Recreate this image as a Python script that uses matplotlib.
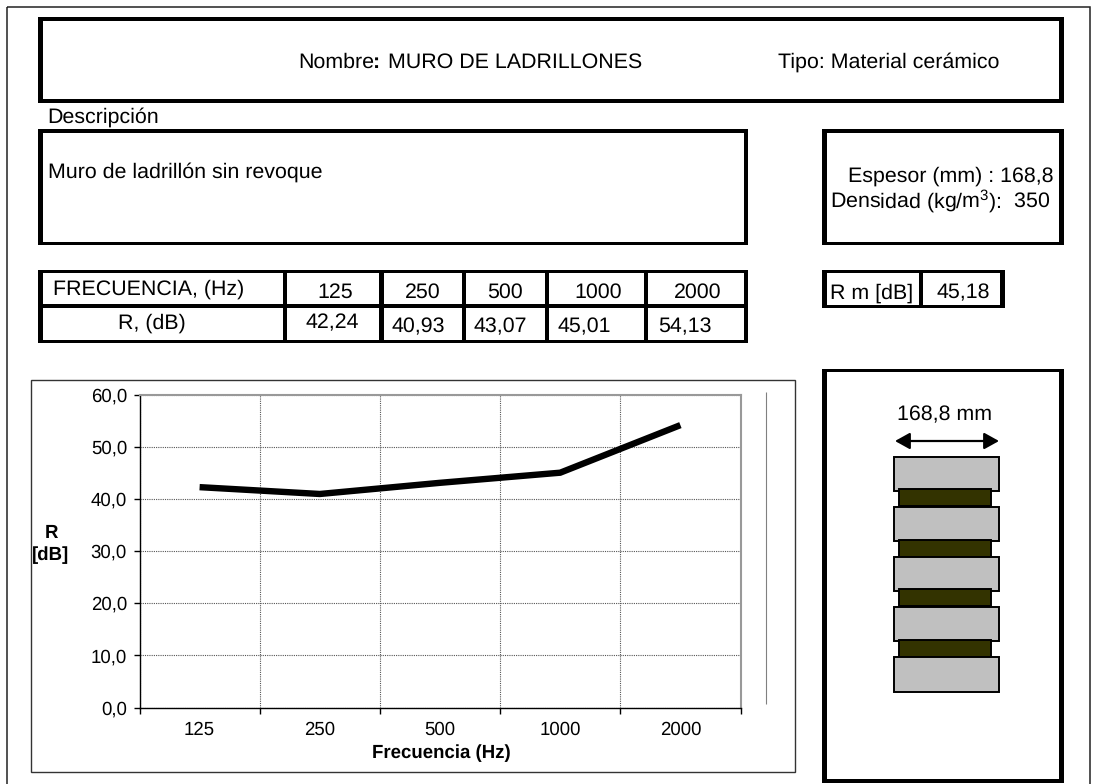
"""
Ficha de muro de ladrillones: cajas de texto, tabla, curva R y esquema del muro.
"""

import matplotlib
matplotlib.use("Agg")
import matplotlib.pyplot as plt
from matplotlib.patches import Rectangle

plt.rcParams['font.family'] = ['Liberation Sans', 'DejaVu Sans']
plt.rcParams['mathtext.default'] = 'regular'
plt.rcParams['text.hinting'] = 'none'

W, H = 1093, 784

# Data
frequencies = ["125", "250", "500", "1000", "2000"]
r_values = [42.24, 40.93, 43.07, 45.01, 54.13]
r_labels = ["42,24", "40,93", "43,07", "45,01", "54,13"]
y_ticks = [0, 10, 20, 30, 40, 50, 60]
y_tick_labels = ["0,0", "10,0", "20,0", "30,0", "40,0", "50,0", "60,0"]

# Layout, in pixels of the picture
TEXT_SIZE = 15.4
AXIS_SIZE = 13.4
CHART_BOX = (139.5, 394.5, 740.5, 707.5)  # left, top, right, bottom
TABLE_COLS = [285, 381.6, 464, 546.8, 646]
FREQ_POS = [(335, 292), (423, 292), (505, 292), (598, 292), (698, 292)]
R_POS = [(332, 323), (418, 327), (500, 327), (584, 327), (685, 327)]
BRICK_ROWS = [(456.5, 490.5), (506.5, 541), (557, 590.5), (606.5, 641), (657, 691.5)]
MORTAR_ROWS = [(489, 506), (540, 557), (589, 606), (640, 657)]


def frame(ax, x0, y0, x1, y1, tv=4.6, th=3.4):
    # outer pixel edges, the source has thicker vertical sides than horizontal ones
    for rect in [(x0, y0, tv, y1 - y0), (x1 - tv, y0, tv, y1 - y0),
                 (x0, y0, x1 - x0, th), (x0, y1 - th, x1 - x0, th)]:
        bar(ax, *rect)


def bar(ax, x, y, w, h, color="black"):
    ax.add_patch(Rectangle((x, y), w, h, facecolor=color, edgecolor="none"))


def thin_box(ax, x0, y0, x1, y1, **kwargs):
    ax.add_patch(Rectangle((x0, y0), x1 - x0, y1 - y0, facecolor="none", **kwargs))


def block(ax, x0, y0, x1, y1, color):
    ax.add_patch(Rectangle((x0, y0), x1 - x0, y1 - y0, facecolor=color, edgecolor="black",
                           linewidth=1.4))


def label(ax, x, y, s, ha="center", **kwargs):
    kwargs.setdefault("size", TEXT_SIZE)
    ax.text(x, y, s, ha=ha, va="center", **kwargs)


def draw_sheet(ax):
    thin_box(ax, 7, 6.7, 1090.2, 800, linewidth=1.1, edgecolor="#222222")

    frame(ax, 38, 17.3, 1064, 102.7)
    ax.text(298, 67.5, "Nombre", size=TEXT_SIZE, va="baseline")
    ax.text(372.5, 67.5, ":", size=TEXT_SIZE, va="baseline", weight="bold")
    ax.text(388.5, 67.5, "MURO DE LADRILLONES", size=TEXT_SIZE, va="baseline")
    label(ax, 778, 62, "Tipo: Material cerámico", ha="left")

    label(ax, 47.5, 117, "Descripción", ha="left")
    frame(ax, 38, 129.3, 748.3, 245)
    label(ax, 47.5, 172, "Muro de ladrillón sin revoque", ha="left")

    frame(ax, 822, 129.3, 1064, 245)
    label(ax, 1053.5, 176, "Espesor (mm) : 168,8", ha="right")
    label(ax, 1050.5, 201, r"Densidad (kg/m$^{3}$):  350", ha="right")

    # Table
    frame(ax, 38, 270, 748.3, 343)
    bar(ax, 38, 304.3, 710, 3.4)
    for x in TABLE_COLS:
        bar(ax, x - 2.3, 270, 4.6, 73)
    label(ax, 149, 289, "FRECUENCIA, (Hz)")
    label(ax, 152, 323, "R, (dB)")
    for (x, y), f in zip(FREQ_POS, frequencies):
        label(ax, x, y, f)
    for (x, y), lab in zip(R_POS, r_labels):
        label(ax, x, y, lab)

    frame(ax, 822, 270, 1005, 308)
    bar(ax, 918.9, 270, 4.4, 38)
    label(ax, 872, 293, "R m [dB]")
    label(ax, 963, 293, "45,18")

    # Chart frame and the stray line right of the plot
    thin_box(ax, 31, 380, 795, 772, linewidth=1.0, edgecolor="#333333")
    ax.plot([765.5, 765.5], [392, 704], color="#808080", lw=0.8, solid_capstyle="butt")

    # Wall section
    frame(ax, 822, 369, 1064, 782.7)
    label(ax, 945, 415, "168,8 mm")
    ax.annotate("", xy=(895, 441), xytext=(999, 441),
                arrowprops=dict(arrowstyle="<|-|>,head_length=0.9,head_width=0.5", color="black",
                                lw=1.6, shrinkA=0, shrinkB=0))
    # each joint sits over the brick above it and under the brick below it
    block(ax, 893.5, *BRICK_ROWS[0][:1], 998.5, BRICK_ROWS[0][1], "#C0C0C0")
    for (m0, m1), (b0, b1) in zip(MORTAR_ROWS, BRICK_ROWS[1:]):
        block(ax, 899, m0, 991, m1, "#333300")
        block(ax, 893.5, b0, 998.5, b1, "#C0C0C0")


def draw_chart(fig):
    left, top, right, bottom = CHART_BOX
    ax = fig.add_axes([left / W, 1 - bottom / H, (right - left) / W, (bottom - top) / H])
    ax.patch.set_alpha(0)
    x = range(len(frequencies))
    ax.plot(x, r_values, color="black", lw=4.6, solid_capstyle="butt", solid_joinstyle="miter")
    ax.set_xlim(-0.5, 4.5)
    ax.set_ylim(0, 60)

    ax.set_yticks(y_ticks)
    ax.set_yticklabels(y_tick_labels, size=AXIS_SIZE)
    ax.set_xticks([i - 0.5 for i in range(6)])
    ax.set_xticklabels([])
    ax.set_xticks(list(x), labels=frequencies, minor=True, size=AXIS_SIZE)
    ax.tick_params(axis="x", which="minor", length=0, pad=10)
    ax.tick_params(axis="both", which="major", length=4, width=1, pad=5)

    ax.grid(True, which="major", color="#555555", lw=0.8, ls=(0, (1, 1)))
    ax.set_axisbelow(True)
    for side in ("top", "right"):
        ax.spines[side].set_color("#999999")
        ax.spines[side].set_linewidth(1.5)
    for side in ("left", "bottom"):
        ax.spines[side].set_linewidth(1.0)
    return ax


def main():
    fig = plt.figure(figsize=(W / 100, H / 100), dpi=100)

    sheet = fig.add_axes([0, 0, 1, 1])
    sheet.set_xlim(0, W)
    sheet.set_ylim(H, 0)
    sheet.axis("off")
    draw_sheet(sheet)

    draw_chart(fig)
    label(sheet, 51, 533, "R", size=AXIS_SIZE, weight="bold")
    label(sheet, 51, 555, "[dB]", size=AXIS_SIZE, weight="bold")
    label(sheet, 441, 753, "Frecuencia (Hz)", size=AXIS_SIZE, weight="bold")

    fig.savefig("out.png", dpi=100)


if __name__ == "__main__":
    main()
